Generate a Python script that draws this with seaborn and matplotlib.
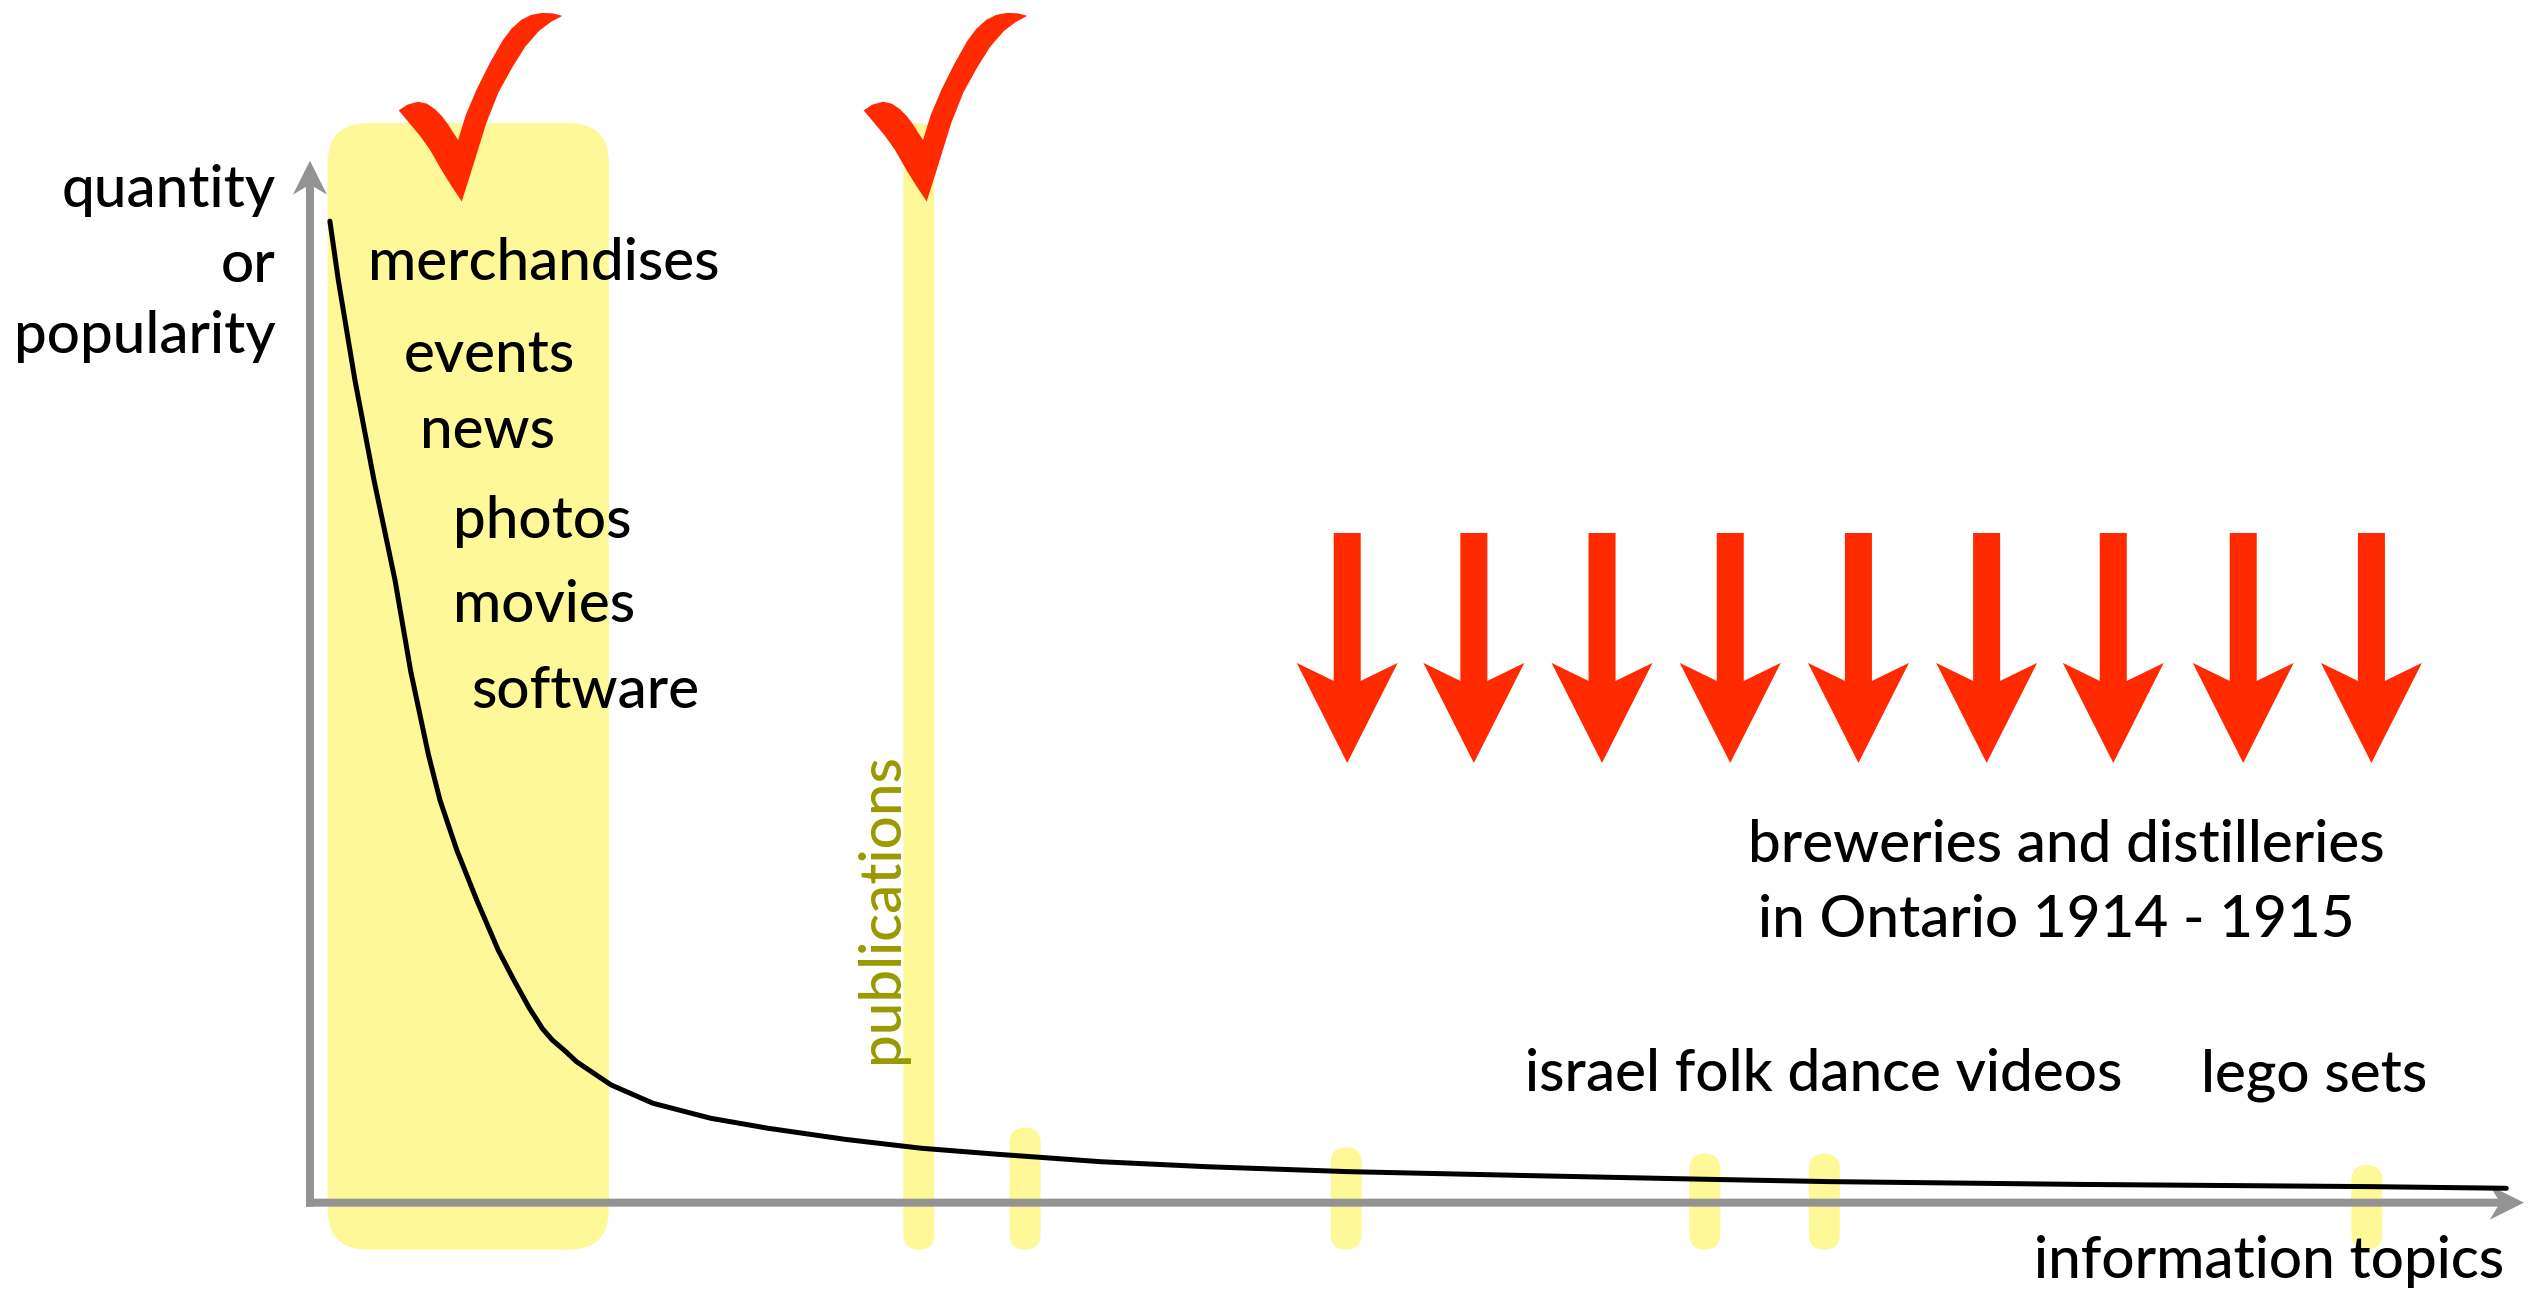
import matplotlib
matplotlib.use('Agg')
import matplotlib.pyplot as plt
from matplotlib.patches import FancyBboxPatch
from matplotlib.path import Path
import seaborn as sns

# long tail: topic rank (0-100) against popularity (0-100)
curve_rank = [0.9, 1.28, 2.03, 2.89, 3.84, 4.55, 4.95, 5.35, 5.87, 6.63, 7.53, 8.5, 9.2,
              9.9, 10.5, 10.95, 11.5, 12.04, 13.6, 15.49, 18.1, 20.69, 24.16, 27.62, 31.08,
              35.72, 40.5, 46.84, 55.0, 62.9, 68.6, 80.0, 93.0, 99.2]
curve_popularity = [94.2, 88.55, 78.95, 69.36, 59.76, 51.0, 47.0, 43.0, 38.65, 33.85, 29.05,
                    24.25, 21.4, 18.7, 16.7, 15.6, 14.6, 13.53, 11.3, 9.54, 8.1, 7.14, 6.08,
                    5.22, 4.64, 3.93, 3.45, 2.98, 2.6, 2.25, 2.02, 1.75, 1.54, 1.38]

# popular head of the distribution
head_start, head_end = 0.8, 13.5
head_top = 103.6
head_labels = ['merchandises', 'events', 'news', 'photos', 'movies', 'software']

# single topics that are highlighted further down the tail
topic_rank = [27.5, 32.3, 46.8, 63.0, 68.4, 92.9]
topic_top = [103.6, 7.2, 5.3, 4.7, 4.7, 3.6]

# covered (ticks) and missing (arrows) topics
check_rank = [7.7, 28.7]
arrow_rank = [46.85, 52.57, 58.36, 64.15, 69.94, 75.73, 81.45, 87.32, 93.11]

# layout
label_x = [2.63, 4.22, 4.97, 6.45, 6.45, 7.26]
label_y = [88.55, 79.75, 72.4, 63.8, 55.7, 47.45]
bottom = -4.5
aspect = 2.125  # y data units per x data unit, in pixels
YELLOW = '#fff898'
RED = '#ff2a00'
GREY = '#939393'
FS = 42
FW = 'medium'

sns.set_theme(style='white')
plt.rcParams['font.family'] = ['Lato', 'DejaVu Sans']
plt.rcParams['text.color'] = 'black'

fig = plt.figure(figsize=(25.45, 12.98), dpi=100)
ax = fig.add_axes([0, 0, 1, 1])
ax.set_xlim(-14.0, 100.95)
ax.set_ylim(-9.15, 115.42)
ax.set_axis_off()

# yellow highlights
ax.add_patch(FancyBboxPatch((head_start, bottom), head_end - head_start, head_top - bottom,
                            boxstyle='round,pad=0,rounding_size=1.8', mutation_aspect=aspect,
                            fc=YELLOW, ec='none', zorder=1))
w = 1.4
for r, t in zip(topic_rank, topic_top):
    ax.add_patch(FancyBboxPatch((r - w / 2, bottom), w, t - bottom,
                                boxstyle=f'round,pad=0,rounding_size={w / 2}',
                                mutation_aspect=aspect, fc=YELLOW, ec='none', zorder=1))

# axes arrows
ax.arrow(-0.18, 0, 100.18, 0, width=0.768, head_width=3.26, head_length=1.54, overhang=0.23,
         length_includes_head=True, color=GREY, lw=0, zorder=2)
ax.arrow(0, -0.384, 0, 100.384, width=0.361, head_width=1.54, head_length=3.26, overhang=0.23,
         length_includes_head=True, color=GREY, lw=0, zorder=2)

# the curve
sns.lineplot(x=curve_rank, y=curve_popularity, ax=ax, color='black', linewidth=3.6,
             sort=False, zorder=3)

# red arrows over the missing topics
for r in arrow_rank:
    ax.arrow(r, 64.27, 0, -22.07, width=1.22, head_width=4.56, head_length=9.6, overhang=0.18,
             length_includes_head=True, color=RED, lw=0, zorder=4)

# tick marks
check = [(0, 0), (12, 38), (24.7, 79), (37, 110), (51, 135.3), (64, 156), (78, 172), (90, 181),
         (101.3, 187), (92, 189.5), (81, 190), (70, 188), (60, 183), (50, 174), (41, 162),
         (28, 139), (15, 113), (4, 87), (-3.7, 62), (-9, 70), (-14, 78), (-20, 86), (-27, 93),
         (-35, 98.5), (-44, 100.5), (-55, 97.5), (-63.5, 91.7), (-52, 78), (-42, 66), (-32, 52),
         (-20, 31), (-10, 15), (0, 0)]
cx, cy = 18.8, 94.65
check_path = Path([(x - cx, y - cy) for x, y in check], closed=True)
ax.scatter(check_rank, [105.1] * len(check_rank), marker=check_path, s=136.3 ** 2,
           color=RED, linewidths=0, edgecolors='none', zorder=5)

# texts
for lab, x, y in zip(head_labels, label_x, label_y):
    ax.text(x, y, lab, fontsize=FS, fontweight=FW, ha='left', va='baseline', zorder=6)
for lab, y in zip(['quantity', 'or', 'popularity'], [95.6, 88.4, 81.5]):
    ax.text(-1.54, y, lab, fontsize=FS, fontweight=FW, ha='right', va='baseline')
ax.text(26.56, 13.4, 'publications', fontsize=FS, fontweight=FW, color='#999900', rotation=90,
        rotation_mode='anchor', ha='left', va='baseline')
ax.text(64.96, 32.7, 'breweries and distilleries', fontsize=FS, fontweight=FW,
        ha='left', va='baseline')
ax.text(65.4, 25.5, 'in Ontario 1914 - 1915', fontsize=FS, fontweight=FW,
        ha='left', va='baseline')
ax.text(54.9, 10.7, 'israel folk dance videos', fontsize=FS, fontweight=FW,
        ha='left', va='baseline')
ax.text(85.4, 10.7, 'lego sets', fontsize=FS, fontweight=FW, ha='left', va='baseline')
ax.text(99.1, -7.2, 'information topics', fontsize=FS, fontweight=FW, ha='right', va='baseline')

fig.savefig('out.png', dpi=100)
